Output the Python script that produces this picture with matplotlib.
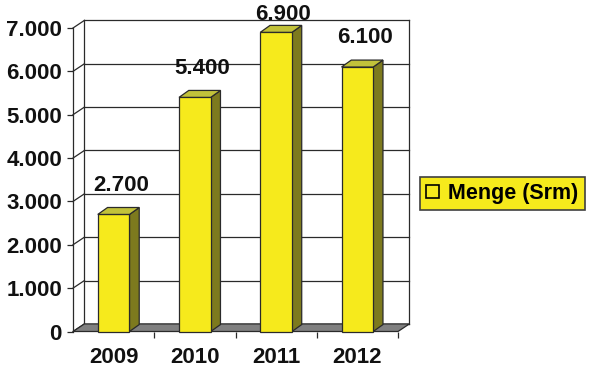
import matplotlib.pyplot as plt
from matplotlib.patches import Polygon, Patch

years = ['2009', '2010', '2011', '2012']
menge = [2700, 5400, 6900, 6100]
value_labels = ['2.700', '5.400', '6.900', '6.100']
y_ticks = [0, 1000, 2000, 3000, 4000, 5000, 6000, 7000]
y_tick_labels = ['0', '1.000', '2.000', '3.000', '4.000', '5.000', '6.000', '7.000']
legend_label = 'Menge (Srm)'

plt.rcParams['font.family'] = ['Liberation Sans', 'DejaVu Sans']

front = '#f6ea1c'
side = '#7d7a1e'
top = '#c2c23a'
floor = '#808080'
line = '#2a2a2a'

# fake 3d depth (data units)
dx, dy = 0.14, 175
bdx, bdy = 0.12, 160
bar_w = 0.39

fig = plt.figure(figsize=(5.93, 3.69), dpi=100)
ax = fig.add_axes([73 / 593, 1 - 331.5 / 369, 325 / 593, 303.5 / 369])
ax.set_xlim(0, 4)
ax.set_ylim(0, 7000)

# back wall and side wall
for v in y_ticks:
    ax.plot([dx, 4 + dx], [v + dy, v + dy], color=line, lw=0.9, zorder=1, clip_on=False)
    ax.plot([0, dx], [v, v + dy], color=line, lw=0.9, zorder=1, clip_on=False)
ax.plot([dx, dx], [dy, 7000 + dy], color=line, lw=0.9, zorder=1, clip_on=False)
ax.plot([4 + dx, 4 + dx], [dy, 7000 + dy], color=line, lw=0.9, zorder=1, clip_on=False)

ax.add_patch(Polygon([(0, 0), (4, 0), (4 + dx, dy), (dx, dy)], closed=True,
                     facecolor=floor, edgecolor=line, lw=0.9, zorder=2, clip_on=False))

xs = [i + 0.5 for i in range(len(years))]
ax.bar(xs, menge, width=bar_w, color=front, edgecolor=line, lw=0.9, zorder=4, clip_on=False)
for x, v, lab in zip(xs, menge, value_labels):
    r = x + bar_w / 2
    l = x - bar_w / 2
    ax.add_patch(Polygon([(r, 0), (r + bdx, bdy), (r + bdx, v + bdy), (r, v)], closed=True,
                         facecolor=side, edgecolor=line, lw=0.9, zorder=3, clip_on=False))
    ax.add_patch(Polygon([(l, v), (r, v), (r + bdx, v + bdy), (l + bdx, v + bdy)], closed=True,
                         facecolor=top, edgecolor=line, lw=0.9, zorder=5, clip_on=False))
    ax.text(x + 0.09, min(v + 670, 7300), lab, ha='center', va='center',
            fontsize=16, fontweight='bold', color='#111111', zorder=6)

for s in ['top', 'right', 'bottom']:
    ax.spines[s].set_visible(False)
ax.spines['left'].set_color(line)
ax.spines['left'].set_linewidth(0.9)

ax.set_yticks(y_ticks)
ax.set_yticklabels(y_tick_labels, fontweight='bold', color='#111111')
ax.tick_params(axis='y', length=4, width=0.9, color=line, pad=4, labelsize=16)

ax.set_xticks(xs)
ax.set_xticklabels(years, fontweight='bold', color='#111111')
ax.set_xticks([1, 2, 3, 4], minor=True)
ax.tick_params(axis='x', which='major', length=0, pad=11, labelsize=16)
ax.tick_params(axis='x', which='minor', length=4, width=0.9, color=line, direction='out')

leg = fig.legend(handles=[Patch(facecolor=front, edgecolor='black', lw=1.2)], labels=[legend_label],
                 loc='center left', bbox_to_anchor=(420 / 593, 1 - 193.5 / 369),
                 prop={'weight': 'bold', 'size': 15.5}, handlelength=0.6, handleheight=0.6,
                 handletextpad=0.4, borderpad=0.3, borderaxespad=0, fancybox=False,
                 framealpha=1)
leg.get_frame().set_facecolor(front)
leg.get_frame().set_edgecolor('#404040')
leg.get_frame().set_linewidth(1.2)

fig.savefig('out.png', dpi=100)
